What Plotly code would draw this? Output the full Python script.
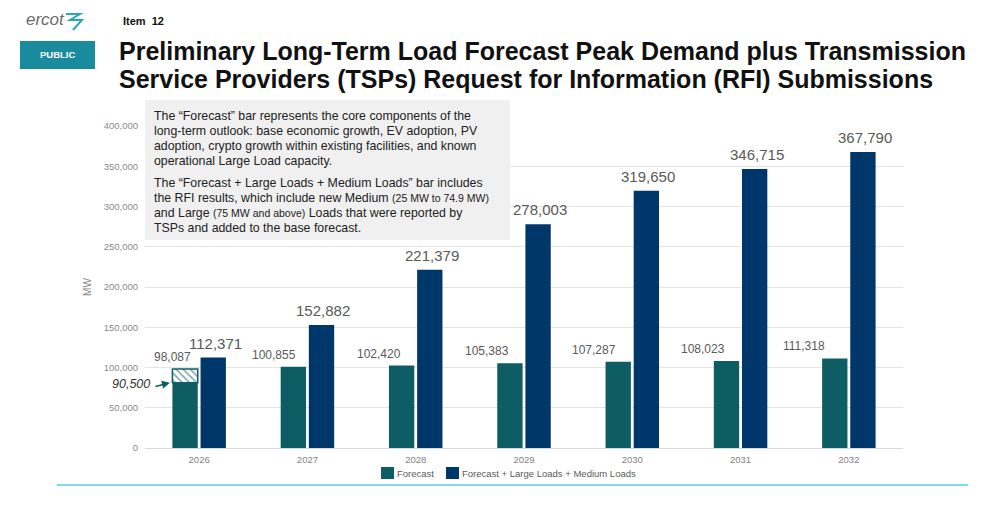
import plotly.graph_objects as go

years = ["2026", "2027", "2028", "2029", "2030", "2031", "2032"]
forecast = [98087, 100855, 102420, 105383, 107287, 108023, 111318]
forecast_rfi = [112371, 152882, 221379, 278003, 319650, 346715, 367790]
firm_2026_drawn = 81000          # top of the solid part of the 2026 Forecast bar as drawn
firm_2026_label = "90,500"
y_ticks = [0, 50000, 100000, 150000, 200000, 250000, 300000, 350000, 400000]
series_names = ["Forecast", "Forecast + Large Loads + Medium Loads"]

TEAL = "#0e5d64"
NAVY = "#00376a"
GRAY = "#595959"
FONT = "Arial, Liberation Sans, sans-serif"

# page body has an 8px margin; work in screen pixels and convert
OFF = 8
W, H = 987 - 2 * OFF, 507 - 2 * OFF
L, R, T, B = 145, 903, 126, 448          # plot area in screen pixels
def px(x):
    return (x - L) / (R - L)
def py(y):
    return (B - y) / (B - T)

solid_vals = [firm_2026_drawn] + forecast[1:]

fig = go.Figure()
fig.add_trace(go.Bar(
    x=years, y=solid_vals, name=series_names[0], offsetgroup="f",
    marker=dict(color=TEAL, line=dict(width=0)), hoverinfo="skip",
))
fig.add_trace(go.Bar(
    x=[years[0]], y=[forecast[0] - firm_2026_drawn], base=[firm_2026_drawn],
    offsetgroup="f", showlegend=False,
    marker=dict(color="white", line=dict(color=TEAL, width=1.5),
                pattern=dict(shape="\\", fgcolor=TEAL, bgcolor="white", size=5, solidity=0.35)),
    hoverinfo="skip",
))
fig.add_trace(go.Bar(
    x=years, y=forecast_rfi, name=series_names[1], offsetgroup="r",
    marker=dict(color=NAVY, line=dict(width=0)), hoverinfo="skip",
))

def rect(x0, y0, x1, y1, color):
    return dict(type="rect", xref="paper", yref="paper", x0=px(x0), x1=px(x1), y0=py(y1), y1=py(y0),
                fillcolor=color, line=dict(width=0), layer="above")

shapes = [
    rect(145, 100, 510, 240, "#f0f0f0"),                       # note box
    dict(type="line", xref="paper", yref="paper", x0=px(57), x1=px(968), y0=py(485), y1=py(485),
         line=dict(color="#7fdce5", width=2)),                   # cyan divider
    rect(20, 41, 95, 69, "#1a8a9d"),                            # PUBLIC box
    dict(type="path", xref="paper", yref="paper",                # logo glyph
         path=(f"M {px(66)},{py(14)} L {px(80)},{py(14)} L {px(70)},{py(20)} "
               f"L {px(82)},{py(20)} L {px(73)},{py(30)}"),
         line=dict(color="#2aa6b5", width=2)),
    rect(381, 467, 394, 479, TEAL),                             # legend keys
    rect(446, 467, 459, 479, NAVY),
]

def txt(text, x, y, size, color="#222222", xanchor="left", yanchor="middle", **kw):
    return dict(text=text, xref="paper", yref="paper", x=px(x), y=py(y), xanchor=xanchor,
                yanchor=yanchor, align="left", showarrow=False,
                font=dict(size=size, color=color, family=FONT), **kw)

sty = "font-size:10.5px"
note_lines = [
    ("The “Forecast” bar represents the core components of the", 116),
    ("long-term outlook: base economic growth, EV adoption, PV", 131),
    ("adoption, crypto growth within existing facilities, and known", 146),
    ("operational Large Load capacity.", 161),
    ("The “Forecast + Large Loads + Medium Loads” bar includes", 183),
    (f"the RFI results, which include new Medium <span style='{sty}'>(25 MW to 74.9 MW)</span>", 198),
    (f"and Large <span style='{sty}'>(75 MW and above)</span> Loads that were reported by", 213),
    ("TSPs and added to the base forecast.", 228),
]

annotations = [txt(t, 152, y, 12.35) for t, y in note_lines]
annotations += [
    txt("<b>Preliminary Long-Term Load Forecast Peak Demand plus Transmission</b>", 117, 51, 25, "#111111"),
    txt("<b>Service Providers (TSPs) Request for Information (RFI) Submissions</b>", 117, 79, 25, "#111111"),
    txt("<b>Item  12</b>", 121, 21, 11, "#111111"),
    txt("<i>ercot</i>", 24, 20, 17, "#6b6b6b"),
    txt("<b>PUBLIC</b>", 57.5, 55, 9.5, "white", xanchor="center"),
    txt(series_names[0], 395, 473, 9.5, GRAY),
    txt(series_names[1], 460, 473, 9.5, GRAY),
    # 90,500 label and arrow
    txt(f"<i>{firm_2026_label}</i>", 152, 384, 12.5, "#333333", xanchor="right"),
    dict(text="", xref="x", yref="y", x=-0.27, y=firm_2026_drawn, ax=-16, ay=4,
         showarrow=True, arrowhead=2, arrowsize=1, arrowwidth=1.6, arrowcolor=TEAL),
]

# value labels (teal labels sit left of their bars, as in the slide)
teal_dx = [-27, -33, -37, -37, -38, -38, -45]
for i in range(len(years)):
    annotations.append(dict(text=f"{forecast[i]:,}", xref="x", yref="y", x=i, y=forecast[i],
                            xshift=teal_dx[i], yshift=3, xanchor="center", yanchor="bottom",
                            showarrow=False, font=dict(size=12, color=GRAY, family=FONT)))
    annotations.append(dict(text=f"{forecast_rfi[i]:,}", xref="x", yref="y", x=i, y=forecast_rfi[i],
                            xshift=16, yshift=4, xanchor="center", yanchor="bottom",
                            showarrow=False, font=dict(size=15, color=GRAY, family=FONT)))

fig.update_layout(
    width=W, height=H,
    margin=dict(l=L - OFF, r=W - (R - OFF), t=T - OFF, b=H - (B - OFF)),
    paper_bgcolor="white", plot_bgcolor="white",
    barmode="group", bargap=0.48, bargroupgap=0.1,
    font=dict(family=FONT, color=GRAY),
    showlegend=False,
    shapes=shapes, annotations=annotations,
)
fig.update_xaxes(type="category", range=[-0.5, 6.5], autorange=False, showgrid=False,
                 showline=True, linecolor="#d9d9d9", linewidth=1,
                 ticks="outside", ticklen=3, tickcolor="rgba(0,0,0,0)",
                 tickfont=dict(size=9.5, color="#7f7f7f"))
fig.update_yaxes(range=[0, 400000], autorange=False, tickvals=y_ticks, tickformat=",", showgrid=True,
                 gridcolor="#e4e4e4", zeroline=False, showline=False,
                 ticks="outside", ticklen=4, tickcolor="rgba(0,0,0,0)",
                 tickfont=dict(size=9.5, color="#8a8a8a"),
                 title=dict(text="MW", font=dict(size=10, color="#8a8a8a"), standoff=10))

fig.write_html("out.html")
